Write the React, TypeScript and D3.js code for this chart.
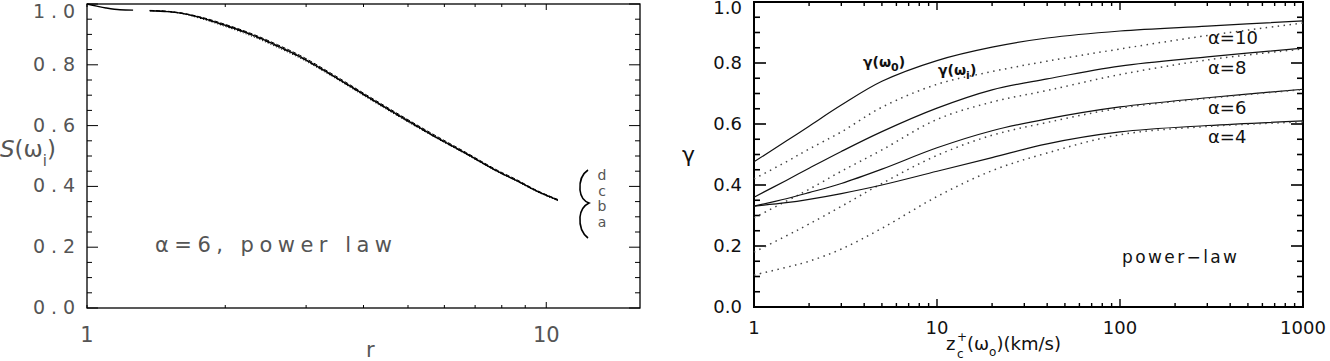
import React, { useEffect, useRef } from "react";
import * as d3 from "d3";

// left panel: S(w_i) vs r, four nearly identical curves a..d (null = gap)
const rValues = [1, 1.05, 1.1, 1.18, 1.26, 1.31, 1.37, 1.5, 1.6, 1.76, 2.0, 2.26, 2.6, 2.9, 3.4, 4.06, 4.79, 5.65, 6.7, 7.9, 8.6, 9.5, 10.6];
const sA = [1.0, 0.993, 0.987, 0.981, 0.98, null, 0.978, 0.975, 0.97, 0.956, 0.93, 0.902, 0.862, 0.828, 0.768, 0.697, 0.632, 0.569, 0.508, 0.447, 0.42, 0.386, 0.355];
const sB = [null, null, null, null, null, null, 0.978, 0.975, 0.969, 0.953, 0.926, 0.897, 0.857, 0.823, 0.764, 0.693, 0.628, 0.566, 0.505, 0.445, 0.418, 0.384, 0.353];
const sC = [null, null, null, null, null, null, 0.979, 0.976, 0.971, 0.958, 0.933, 0.905, 0.866, 0.832, 0.772, 0.701, 0.636, 0.573, 0.511, 0.45, 0.423, 0.388, 0.357];
const sD = [null, null, null, null, null, null, 0.978, 0.975, 0.97, 0.955, 0.928, 0.9, 0.86, 0.826, 0.766, 0.695, 0.63, 0.567, 0.506, 0.446, 0.419, 0.385, 0.354];
const leftCurveNames = ["a", "b", "c", "d"];
const leftYTicks = [0, 0.2, 0.4, 0.6, 0.8, 1.0];
const leftXTicks = [1, 10];

// right panel: gamma vs z_c^+(w_o), solid = gamma(w_0), dotted = gamma(w_i)
const zValues = [1, 1.5, 2, 3, 5, 10, 20, 40, 100, 300, 1000];
const alphas = [10, 8, 6, 4];
const gamma0 = [
  [0.476, 0.544, 0.593, 0.662, 0.74, 0.808, 0.852, 0.882, 0.905, 0.921, 0.938],
  [0.36, 0.415, 0.455, 0.51, 0.575, 0.652, 0.712, 0.748, 0.79, 0.82, 0.849],
  [0.331, 0.355, 0.375, 0.405, 0.452, 0.522, 0.578, 0.617, 0.656, 0.686, 0.714],
  [0.331, 0.342, 0.353, 0.372, 0.4, 0.445, 0.49, 0.535, 0.574, 0.595, 0.61],
];
const gammaI = [
  [0.42, 0.476, 0.518, 0.574, 0.655, 0.73, 0.772, 0.806, 0.846, 0.89, 0.931],
  [0.292, 0.347, 0.386, 0.445, 0.515, 0.615, 0.672, 0.71, 0.762, 0.81, 0.846],
  [0.18, 0.233, 0.272, 0.33, 0.405, 0.497, 0.563, 0.605, 0.652, 0.684, 0.713],
  [0.105, 0.13, 0.15, 0.19, 0.258, 0.362, 0.447, 0.505, 0.565, 0.592, 0.607],
];
const rightYTicks = [0, 0.2, 0.4, 0.6, 0.8, 1.0];
const rightXTicks = [1, 10, 100, 1000];

const App = () => {
  const svgRef = useRef<SVGSVGElement>(null);

  useEffect(() => {
    const svg = d3.select(svgRef.current);
    svg.selectAll("*").remove();

    const thin = "DejaVu Sans";

    // ---------- left panel ----------
    const xL = d3.scaleLog().domain([1, 16]).range([87, 640]);
    const yL = d3.scaleLinear().domain([0, 1]).range([308, 4]);
    const left = svg.append("g");

    left.append("rect")
      .attr("x", 87).attr("y", 4).attr("width", 553).attr("height", 304)
      .attr("fill", "none").attr("stroke", "#000").attr("stroke-width", 1.3);

    d3.range(0, 21).forEach((i) => {
      const y = yL(i * 0.05);
      const len = i % 4 === 0 ? 11 : 5;
      left.append("line").attr("x1", 87).attr("x2", 87 + len).attr("y1", y).attr("y2", y).attr("stroke", "#000");
      left.append("line").attr("x1", 640).attr("x2", 640 - len).attr("y1", y).attr("y2", y).attr("stroke", "#000");
    });
    xL.ticks().forEach((t) => {
      const x = xL(t);
      const len = t === 10 ? 6 : 3;
      left.append("line").attr("x1", x).attr("x2", x).attr("y1", 308).attr("y2", 308 - len).attr("stroke", "#000");
      left.append("line").attr("x1", x).attr("x2", x).attr("y1", 4).attr("y2", 4 + len).attr("stroke", "#000");
    });

    leftYTicks.forEach((v) => {
      left.append("text")
        .attr("x", 33).attr("y", Math.max(yL(v) + 6, 18))
        .attr("textLength", 42).attr("lengthAdjust", "spacing")
        .style("font-family", thin).style("font-size", "19px").style("fill", "#555")
        .text(d3.format(".1f")(v));
    });
    leftXTicks.forEach((v) => {
      left.append("text")
        .attr("x", xL(v)).attr("y", 342).attr("text-anchor", "middle")
        .style("font-family", thin).style("font-size", "21px").style("fill", "#555")
        .text(String(v));
    });
    left.append("text").attr("x", 366).attr("y", 357)
      .style("font-family", thin).style("font-size", "21px").style("fill", "#555").text("r");

    const yLab = left.append("text").attr("x", 0).attr("y", 157)
      .style("font-family", thin).style("font-size", "23px").style("fill", "#555");
    yLab.append("tspan").style("font-style", "italic").text("S");
    yLab.append("tspan").text("(ω");
    yLab.append("tspan").attr("dy", 9).style("font-size", "15px").text("i");
    yLab.append("tspan").attr("dy", -9).text(")");

    left.append("text").attr("x", 155).attr("y", 252)
      .attr("textLength", 237).attr("lengthAdjust", "spacing")
      .style("font-family", thin).style("font-size", "21px").style("fill", "#555")
      .text("α=6,  power  law");

    const leftSeries = [sA, sB, sC, sD];
    const dashes = [null, "1,2", "4,2", "5,2,1,2"];
    const lineL = d3.line<[number, number | null]>()
      .defined((d) => d[1] !== null)
      .x((d) => xL(d[0]))
      .y((d) => yL(d[1] as number))
      .curve(d3.curveMonotoneX);
    leftSeries.forEach((s, i) => {
      left.append("path")
        .attr("d", lineL(rValues.map((r, k) => [r, s[k]] as [number, number | null])))
        .attr("fill", "none").attr("stroke", "#000").attr("stroke-width", i === 0 ? 1.4 : 1)
        .attr("stroke-dasharray", dashes[i]);
    });

    // brace + curve names
    left.append("path")
      .attr("d", "M588,170 Q579,176 580,190 Q581,200 589,203 Q581,207 580,217 Q579,231 588,238")
      .attr("fill", "none").attr("stroke", "#000").attr("stroke-width", 1.6);
    leftCurveNames.slice().reverse().forEach((n, i) => {
      left.append("text").attr("x", 602).attr("y", 180 + i * 15.5).attr("text-anchor", "middle")
        .style("font-family", thin).style("font-size", "14px").style("fill", "#555").text(n);
    });

    // ---------- right panel ----------
    const xR = d3.scaleLog().domain([1, 1000]).range([754, 1303]);
    const yR = d3.scaleLinear().domain([0, 1]).range([307, 2]);
    const right = svg.append("g");

    right.append("rect")
      .attr("x", 754).attr("y", 2).attr("width", 549).attr("height", 305)
      .attr("fill", "none").attr("stroke", "#000").attr("stroke-width", 2);

    d3.range(0, 21).forEach((i) => {
      const y = yR(i * 0.05);
      const len = i % 4 === 0 ? 12 : 6;
      right.append("line").attr("x1", 754).attr("x2", 754 + len).attr("y1", y).attr("y2", y).attr("stroke", "#000").attr("stroke-width", 1.6);
      right.append("line").attr("x1", 1303).attr("x2", 1303 - len).attr("y1", y).attr("y2", y).attr("stroke", "#000").attr("stroke-width", 1.6);
    });
    xR.ticks().forEach((t) => {
      const x = xR(t);
      const len = rightXTicks.includes(t) ? 8 : 4;
      right.append("line").attr("x1", x).attr("x2", x).attr("y1", 307).attr("y2", 307 - len).attr("stroke", "#000").attr("stroke-width", 1.4);
      right.append("line").attr("x1", x).attr("x2", x).attr("y1", 2).attr("y2", 2 + len).attr("stroke", "#000").attr("stroke-width", 1.4);
    });

    rightYTicks.forEach((v) => {
      right.append("text")
        .attr("x", 742).attr("y", Math.max(yR(v) + 6, 14)).attr("text-anchor", "end")
        .style("font-family", thin).style("font-size", "18px").style("fill", "#111")
        .text(d3.format(".1f")(v));
    });
    rightXTicks.forEach((v) => {
      right.append("text")
        .attr("x", v === 1000 ? 1303 : xR(v)).attr("y", 334).attr("text-anchor", "middle")
        .style("font-family", thin).style("font-size", "18px").style("fill", "#111")
        .text(String(v));
    });

    right.append("text").attr("x", 682).attr("y", 162)
      .style("font-family", thin).style("font-size", "22px").style("fill", "#111").text("γ");

    const tStyle = (t: d3.Selection<SVGTextElement, unknown, null, undefined>, size: number) =>
      t.style("font-family", thin).style("font-size", `${size}px`).style("fill", "#111");
    tStyle(right.append("text").attr("x", 946).attr("y", 350).text("z"), 18);
    tStyle(right.append("text").attr("x", 957).attr("y", 341).text("+"), 12);
    tStyle(right.append("text").attr("x", 957).attr("y", 358).text("c"), 12);
    const xt = tStyle(right.append("text").attr("x", 967).attr("y", 350), 18);
    xt.append("tspan").text("(ω");
    xt.append("tspan").attr("dy", 6).style("font-size", "12px").text("o");
    xt.append("tspan").attr("dy", -6).text(")(km/s)");

    const lineR = d3.line<[number, number]>()
      .x((d) => xR(d[0]))
      .y((d) => yR(d[1]))
      .curve(d3.curveCatmullRom.alpha(0.5));
    alphas.forEach((a, i) => {
      right.append("path")
        .attr("d", lineR(zValues.map((z, k) => [z, gamma0[i][k]] as [number, number])))
        .attr("fill", "none").attr("stroke", "#111").attr("stroke-width", 1.2);
      right.append("path")
        .attr("d", lineR(zValues.map((z, k) => [z, gammaI[i][k]] as [number, number])))
        .attr("fill", "none").attr("stroke", "#444").attr("stroke-width", 1.5)
        .attr("stroke-dasharray", "1.5,4.5");
    });

    const alphaY = [44, 74, 114, 143];
    alphas.forEach((a, i) => {
      right.append("text").attr("x", 1208).attr("y", alphaY[i])
        .style("font-family", thin).style("font-size", "18px").style("fill", "#111")
        .text(`α=${a}`);
    });

    const g0 = tStyle(right.append("text").attr("x", 863).attr("y", 67), 14).style("font-weight", "bold");
    g0.append("tspan").text("γ(ω");
    g0.append("tspan").attr("dy", 4).style("font-size", "11px").text("0");
    g0.append("tspan").attr("dy", -4).text(")");
    const gi = tStyle(right.append("text").attr("x", 938).attr("y", 75), 14).style("font-weight", "bold");
    gi.append("tspan").text("γ(ω");
    gi.append("tspan").attr("dy", 4).style("font-size", "11px").text("i");
    gi.append("tspan").attr("dy", -4).text(")");

    right.append("text").attr("x", 1122).attr("y", 263)
      .attr("textLength", 115).attr("lengthAdjust", "spacing")
      .style("font-family", thin).style("font-size", "17px").style("fill", "#111")
      .text("power−law");
  }, []);

  return (
    <svg ref={svgRef} width={1330} height={361}
      style={{ position: "absolute", left: 0, top: 0, background: "#fff" }}></svg>
  );
};

export default App;
